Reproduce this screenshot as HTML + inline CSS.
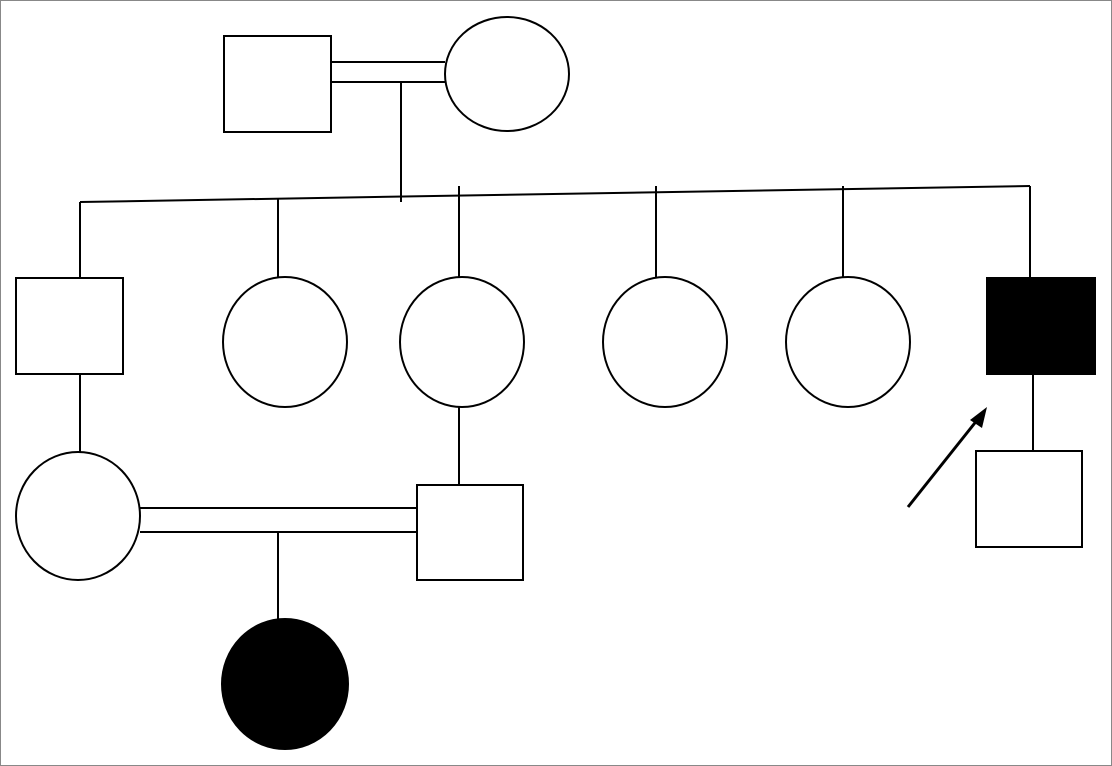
<!DOCTYPE html>
<html><head><meta charset="utf-8"><style>
html,body{margin:0;padding:0;background:#fff;}
svg{display:block;}
</style></head><body>
<svg width="1112" height="766" viewBox="0 0 1112 766" xmlns="http://www.w3.org/2000/svg">
<rect x="0.5" y="0.5" width="1111" height="765" fill="#fff" stroke="#888" stroke-width="1"/>
<g stroke="#000" stroke-width="2" fill="#fff">
<!-- top couple -->
<rect x="224" y="36" width="107" height="96"/>
<ellipse cx="507" cy="74" rx="62" ry="57"/>
<line x1="331" y1="62" x2="445" y2="62"/>
<line x1="331" y1="82" x2="445" y2="82"/>
<line x1="401" y1="82" x2="401" y2="202"/>
<!-- sibship -->
<line x1="80" y1="202" x2="1030" y2="186"/>
<line x1="80" y1="202" x2="80" y2="278"/>
<line x1="278" y1="199" x2="278" y2="278"/>
<line x1="459" y1="186" x2="459" y2="278"/>
<line x1="656" y1="186" x2="656" y2="278"/>
<line x1="843" y1="186" x2="843" y2="278"/>
<line x1="1030" y1="186" x2="1030" y2="278"/>
<!-- gen 2 -->
<rect x="16" y="278" width="107" height="96"/>
<ellipse cx="285" cy="342" rx="62" ry="65"/>
<ellipse cx="462" cy="342" rx="62" ry="65"/>
<ellipse cx="665" cy="342" rx="62" ry="65"/>
<ellipse cx="848" cy="342" rx="62" ry="65"/>
<rect x="987" y="278" width="108" height="96" fill="#000"/>
<!-- right child -->
<line x1="1033" y1="374" x2="1033" y2="451"/>
<rect x="976" y="451" width="106" height="96"/>
<!-- gen 3 left -->
<line x1="80" y1="374" x2="80" y2="452"/>
<ellipse cx="78" cy="516" rx="62" ry="64"/>
<line x1="459" y1="407" x2="459" y2="485"/>
<rect x="417" y="485" width="106" height="95"/>
<line x1="140" y1="508" x2="417" y2="508"/>
<line x1="140" y1="532" x2="417" y2="532"/>
<line x1="278" y1="532" x2="278" y2="620"/>
<ellipse cx="285" cy="684" rx="63" ry="65" fill="#000"/>
<!-- arrow -->
<line x1="908" y1="507" x2="978" y2="419" stroke-width="3"/>
</g>
<polygon points="987,407 970,420 982,428" fill="#000"/>
</svg>
</body></html>
